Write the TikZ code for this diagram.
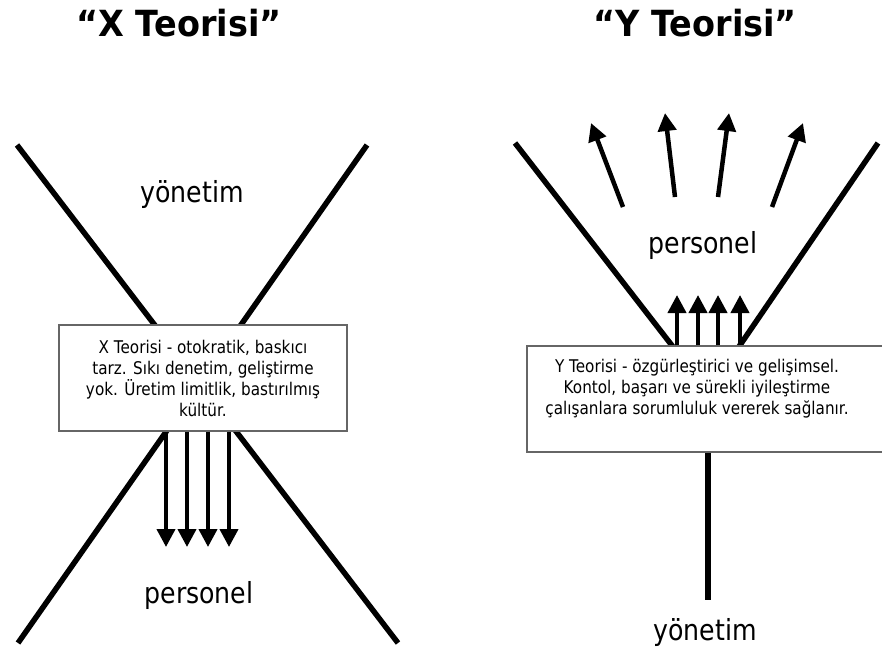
\documentclass[tikz,border=0pt]{standalone}
\usepackage{fontspec}
\setmainfont{DejaVu Sans}[FakeStretch=0.87]
\newfontfamily\headfont{DejaVu Sans}[FakeStretch=0.93]
\usetikzlibrary{arrows.meta, positioning}

\tikzset{
  bar/.style={line width=5.5pt},
  pointer/.style={line width=4pt, -{Triangle[width=18pt,length=18pt]}},
  fanpointer/.style={pointer, line width=4.5pt},
  textbox/.style={draw=black!60, line width=1.2pt, fill=white, align=center,
                  font=\fontsize{17.5}{21}\selectfont},
  heading/.style={anchor=base, font=\headfont\fontsize{36}{40}\selectfont\bfseries},
  word/.style={anchor=base, font=\fontsize{29}{32}\selectfont}
}

\begin{document}
\begin{tikzpicture}[x=1pt, y=-1pt]
  \useasboundingbox (0,0) rectangle (882,651);
  \node[heading] (xtitle) at (179,36) {“X Teorisi”};
  \node[heading] (ytitle) at (695,36) {“Y Teorisi”};

  % X theory
  \draw[bar] (17,145) -- (398,643);
  \draw[bar] (367,145) -- (18,643);
  \node[word] (xtop) at (192,202) {yönetim};
  \node[textbox, minimum width=288pt, minimum height=106pt] (xbox) at (203,378)
    {X Teorisi - otokratik, baskıcı\\tarz. Sıkı denetim, geliştirme\\yok. Üretim limitlik, bastırılmış\\kültür.};
  \foreach \x in {166,187,208,229}
    \draw[pointer] (\x,0 |- xbox.south) -- (\x,547);
  \node[word] (xbottom) at (199,603) {personel};

  % Y theory
  \coordinate (yc) at (708,392);
  \coordinate (ystem) at (708,600);
  \draw[bar] (515,143) -- (yc) -- (878,143);
  \draw[bar] (yc) -- (ystem);
  \node[word] (ytop) at (703,253) {personel};
  \foreach \a/\b/\c/\d in {623/207/591/123, 675/197/665/113, 718/197/729/113, 772/207/803/123}
    \draw[fanpointer] (\a,\b) -- (\c,\d);
  \node[textbox, minimum width=363pt, minimum height=106pt] (ybox) at (708.5,399) {};
  \node[align=center, font=\fontsize{17.5}{21}\selectfont] (ytext) at (697,389)
    {Y Teorisi - özgürleştirici ve gelişimsel.\\Kontol, başarı ve sürekli iyileştirme\\çalışanlara sorumluluk vererek sağlanır.};
  \foreach \x in {677,698,718,740}
    \draw[pointer] (\x,0 |- ybox.north) -- (\x,295);
  \node[word] (ybottom) at (705,640) {yönetim};
\end{tikzpicture}
\end{document}
